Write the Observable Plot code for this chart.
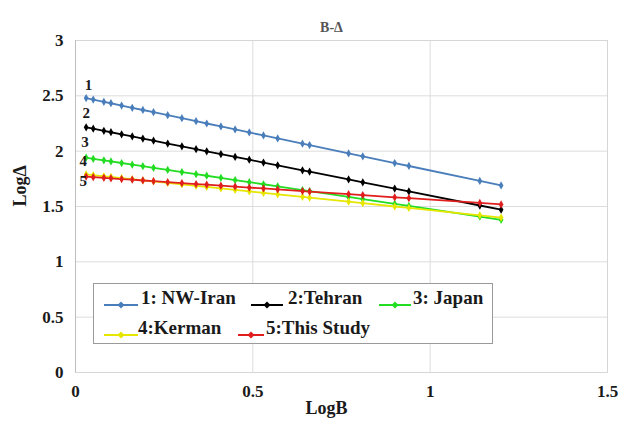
<!DOCTYPE html>
<html><head><meta charset="utf-8">
<script src="https://cdn.jsdelivr.net/npm/d3@7"></script>
<script src="https://cdn.jsdelivr.net/npm/@observablehq/plot@0.6"></script>
<style>
body{margin:0;background:#fff;}
#wrap{position:relative;width:624px;height:425px;}
svg text{font-family:"Liberation Serif","Times New Roman",serif !important;}
#legend{position:absolute;left:93px;top:283px;width:398px;height:59px;border:1px solid #9a9a9a;background:#fff;font-family:"Liberation Serif","Times New Roman",serif;font-weight:bold;font-size:19px;color:#1a1a1a;}
.sw{position:absolute;}
.lt{position:absolute;white-space:nowrap;line-height:20px;}
</style></head><body><div id="wrap"></div>
<script>
const logB = [0.03,0.05,0.08,0.10,0.13,0.16,0.19,0.22,0.26,0.30,0.34,0.37,0.41,0.45,0.49,0.53,0.57,0.64,0.66,0.77,0.81,0.90,0.94,1.14,1.20];
const nwIran = [2.480,2.466,2.446,2.433,2.412,2.392,2.372,2.352,2.325,2.298,2.271,2.250,2.223,2.196,2.169,2.142,2.115,2.068,2.055,1.980,1.953,1.893,1.866,1.731,1.690];
const tehran = [2.216,2.203,2.184,2.171,2.152,2.133,2.114,2.095,2.069,2.044,2.018,1.999,1.974,1.948,1.923,1.897,1.872,1.827,1.815,1.745,1.719,1.662,1.636,1.509,1.471];
const japan = [1.941,1.931,1.917,1.907,1.893,1.878,1.864,1.850,1.830,1.811,1.792,1.778,1.759,1.739,1.720,1.701,1.682,1.648,1.639,1.586,1.567,1.524,1.505,1.409,1.380];
const kerman = [1.790,1.783,1.773,1.767,1.757,1.747,1.737,1.727,1.713,1.700,1.687,1.677,1.663,1.650,1.637,1.623,1.610,1.587,1.580,1.544,1.530,1.500,1.487,1.420,1.400];
const thisStudy = [1.770,1.765,1.759,1.755,1.748,1.742,1.735,1.729,1.720,1.712,1.703,1.697,1.688,1.680,1.671,1.663,1.654,1.639,1.635,1.611,1.603,1.583,1.575,1.532,1.519];
const seriesNames = ["1: NW-Iran","2:Tehran","3: Japan","4:Kerman","5:This Study"];
const seriesColors = ["#4a7ebb","#000000","#22dd22","#e6e600","#e01e1e"];
const seriesValues = [nwIran, tehran, japan, kerman, thisStudy];
const labelText = ["1","2","3","4","5"];
const labelX = [0.037,0.030,0.027,0.022,0.022];
const labelY = [2.60,2.34,2.08,1.91,1.73];
const xTicks = [0,0.5,1,1.5];
const yTicks = [0,0.5,1,1.5,2,2.5,3];
const xLabel = "LogB";
const yLabel = "LogΔ";
const title = "B-Δ";

const rows = seriesValues.flatMap((vals, i) => vals.map((v, j) => ({x: logB[j], y: v, s: seriesNames[i]})));
const labels = labelText.map((t, i) => ({t, x: labelX[i], y: labelY[i]}));

const chart = Plot.plot({
  width: 624, height: 425,
  marginLeft: 75, marginRight: 17, marginTop: 40, marginBottom: 53,
  style: {fontWeight: "bold", fontSize: "17px", color: "#1a1a1a", background: "#fff"},
  x: {domain: [0, 1.5], label: null},
  y: {domain: [0, 3], label: null},
  color: {domain: seriesNames, range: seriesColors},
  marks: [
    Plot.gridX(xTicks, {stroke: "#dcdcdc", strokeOpacity: 1}),
    Plot.gridY(yTicks, {stroke: "#dcdcdc", strokeOpacity: 1}),
    Plot.frame({stroke: "#d6d6d6"}),
    Plot.ruleX([0], {stroke: "#bdbdbd"}),
    Plot.axisX(xTicks, {tickSize: 0, tickPadding: 12, label: null, tickFormat: d => String(d), fontSize: 17, fontWeight: "bold"}),
    Plot.axisY(yTicks, {tickSize: 0, tickPadding: 12, label: null, tickFormat: d => String(d), fontSize: 17, fontWeight: "bold"}),
    Plot.line(rows, {x: "x", y: "y", z: "s", stroke: "s", strokeWidth: 1.8}),
    Plot.dot(rows, {x: "x", y: "y", fill: "s", symbol: "diamond", r: 2.5}),
    Plot.text(labels, {x: "x", y: "y", text: "t", fontSize: 15, fontWeight: "bold", fill: "#1a1a1a"}),
    Plot.text([title], {frameAnchor: "top", dy: -18, dx: -10, fontSize: 14, fontWeight: "bold", fill: "#555"}),
    Plot.text([xLabel], {frameAnchor: "bottom", dy: 41, dx: -15, fontSize: 18, fontWeight: "bold", fill: "#1a1a1a"}),
    Plot.text([yLabel], {frameAnchor: "left", dx: -55, dy: 0, rotate: -90, fontSize: 18, fontWeight: "bold", fill: "#1a1a1a"})
  ]
});
document.getElementById("wrap").appendChild(chart);

const legend = document.createElement("div");
legend.id = "legend";
// [swatch left, swatch width, text left, row center] relative to legend box
const layout = [[10,34,47,14],[157,32,194,14],[285,32,319,14],[10,34,44,44],[144,26,172,44]];
seriesNames.forEach((n, i) => {
  const [sl, sw, tl, cy] = layout[i];
  const s = document.createElement("div");
  s.className = "sw";
  s.style.left = sl + "px"; s.style.top = (cy - 5) + "px";
  const m = sw / 2;
  s.innerHTML = `<svg width="${sw}" height="10"><line x1="0" y1="5" x2="${sw}" y2="5" stroke="${seriesColors[i]}" stroke-width="2"/><path d="M${m},1.5L${m+3.5},5L${m},8.5L${m-3.5},5Z" fill="${seriesColors[i]}"/></svg>`;
  legend.appendChild(s);
  const t = document.createElement("div");
  t.className = "lt";
  t.style.left = tl + "px"; t.style.top = (cy - 10) + "px";
  t.textContent = n;
  legend.appendChild(t);
});
document.getElementById("wrap").appendChild(legend);
</script></body></html>
